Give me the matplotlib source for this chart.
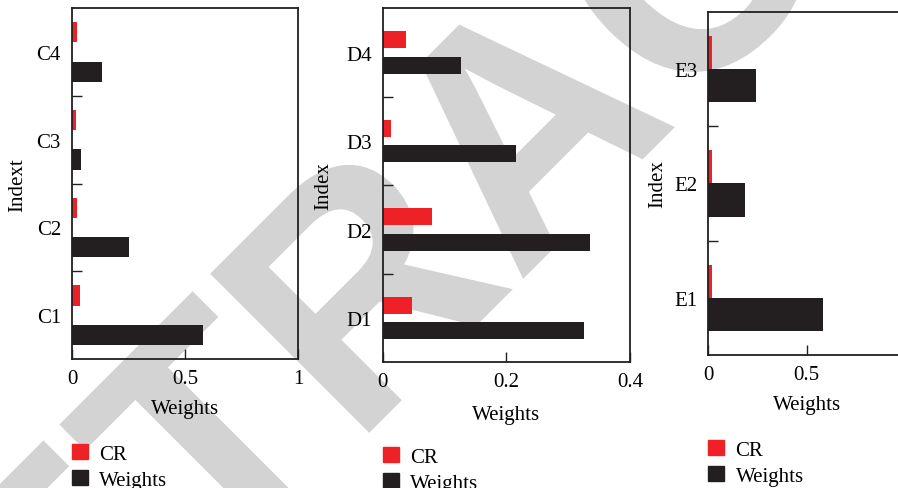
import numpy as np
import matplotlib
matplotlib.use("Agg")
import matplotlib.pyplot as plt
import matplotlib.transforms as mtransforms
from matplotlib.patches import Patch, PathPatch
from matplotlib.textpath import TextPath
from matplotlib.font_manager import FontProperties

# criteria C1..C4
c_labels = ["C1", "C2", "C3", "C4"]
c_weights = [0.578, 0.252, 0.040, 0.131]
c_cr = [0.037, 0.021, 0.018, 0.021]

# criteria D1..D4
d_labels = ["D1", "D2", "D3", "D4"]
d_weights = [0.325, 0.336, 0.215, 0.126]
d_cr = [0.047, 0.0795, 0.0134, 0.0376]

# criteria E1..E3
e_labels = ["E1", "E2", "E3"]
e_weights = [0.581, 0.186, 0.242]
e_cr = [0.017, 0.020, 0.017]

RED = "#ee2226"
BLACK = "#231f20"

plt.rcParams["font.family"] = ["Liberation Serif", "DejaVu Serif"]
plt.rcParams["font.size"] = 15

W, H = 898, 489
fig = plt.figure(figsize=(W / 100, H / 100), dpi=100)


def px_box(left, right, top, bottom):
    return [left / W, 1 - bottom / H, (right - left) / W, (bottom - top) / H]


def panel(rect, labels, weights, cr, xmax, xticks, xticklabels, ylabel,
          off, bh, leg_top, ypad, xpad):
    ax = fig.add_axes(rect)
    ax.set_facecolor("none")
    y = np.arange(1, len(labels) + 1)
    ax.barh(y + off, cr, height=bh, color=RED, zorder=2)
    ax.barh(y - off, weights, height=bh, color=BLACK, zorder=2)
    ax.set_ylim(0.5, len(labels) + 0.5)
    ax.set_xlim(0, xmax)
    ax.set_yticks(y)
    ax.set_yticklabels(labels)
    ax.set_yticks(np.arange(1.5, len(labels), 1.0), minor=True)
    ax.tick_params(axis="y", which="major", length=0, pad=8)
    ax.tick_params(axis="y", which="minor", direction="in", length=7,
                   width=1, color=BLACK)
    ax.set_xticks(xticks)
    ax.set_xticklabels(xticklabels)
    ax.tick_params(axis="x", direction="in", length=7, width=1,
                   color=BLACK, pad=7)
    for s in ax.spines.values():
        s.set_color(BLACK)
        s.set_linewidth(1.3)
    ax.set_xlabel("Weights", labelpad=xpad)
    ax.set_ylabel(ylabel, labelpad=ypad)
    handles = [Patch(color=RED, label="CR"), Patch(color=BLACK, label="Weights")]
    ax.legend(handles=handles, loc="upper left",
              bbox_to_anchor=(rect[0], 1 - leg_top / H),
              bbox_transform=fig.transFigure, frameon=False,
              borderpad=0, borderaxespad=0, handlelength=0.76,
              handleheight=0.76, handletextpad=0.55, labelspacing=0.28)
    return ax


panel(px_box(72, 298.3, 9.3, 360), c_labels, c_weights, c_cr, 1,
      [0, 0.5, 1], ["0", "0.5", "1"], "Indext", 0.225, 0.23, 445, 7, 8)
panel(px_box(382.7, 630, 9.3, 363.3), d_labels, d_weights, d_cr, 0.4,
      [0, 0.2, 0.4], ["0", "0.2", "0.4"], "Index", 0.145, 0.19, 448, 9, 10)
panel(px_box(708.3, 905, 12.7, 356), e_labels, e_weights, e_cr, 1,
      [0, 0.5], ["0", "0.5"], "Index", 0.145, 0.29, 441, 5, 8)

# grey diagonal stamp behind the panels
stamp_font = FontProperties(family="Liberation Sans", weight="bold")
word = TextPath((0, 0), "RETRACTED", size=1, prop=stamp_font)
a_right = TextPath((0, 0), "RETRA", size=1, prop=stamp_font).get_extents().x1
a_width = TextPath((0, 0), "A", size=1, prop=stamp_font).get_extents().width
a_mid = a_right - a_width / 2
stamp_tf = (mtransforms.Affine2D()
            .translate(-a_mid, 0)
            .scale(320, 327)
            .rotate_deg(45)
            .translate(599, H - 204)
            .scale(1 / W, 1 / H)) + fig.transFigure
fig.patches.append(PathPatch(word, transform=stamp_tf, facecolor="#d3d3d3",
                             edgecolor="none", zorder=-1, figure=fig))

fig.savefig("out.png", dpi=100)
